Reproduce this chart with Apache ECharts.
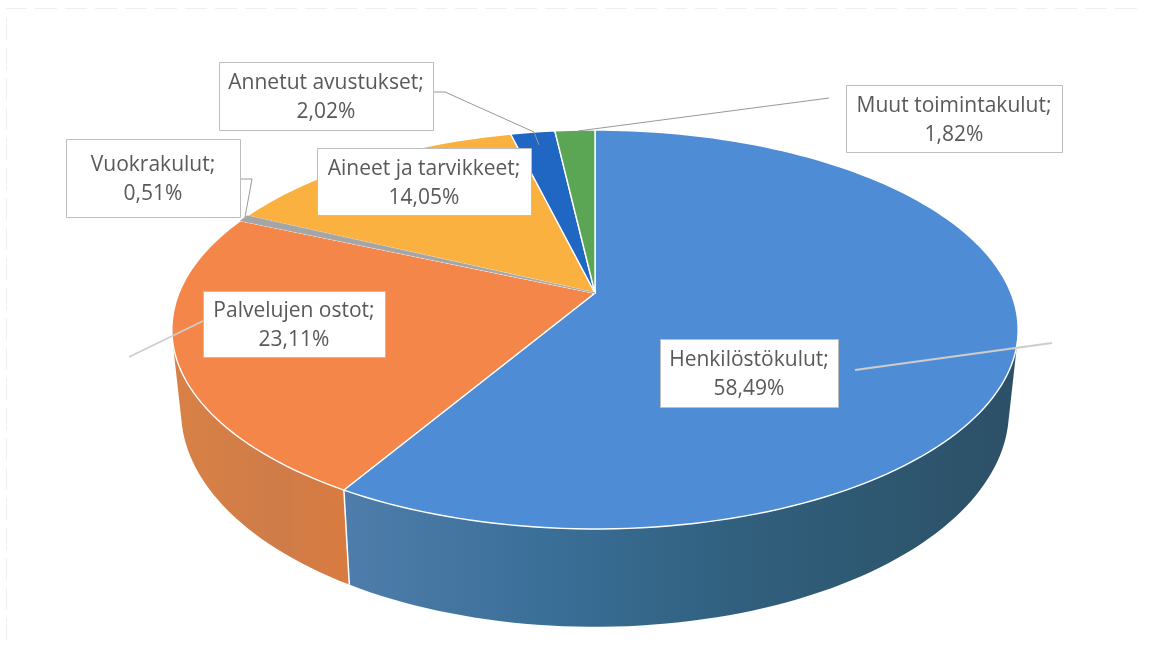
<!DOCTYPE html>
<html lang="fi">
<head>
<meta charset="UTF-8">
<title>Toimintakulut</title>
<script src="https://cdn.jsdelivr.net/npm/echarts@6/dist/echarts.min.js"></script>
<style>
	html, body { margin: 0; padding: 0; background: #fff; }
	#container { width: 1162px; height: 648px; }
</style>
</head>
<body>
<div id="container"></div>
<script>
// data, clockwise from 12 o'clock
var categories = ['Henkilöstökulut', 'Palvelujen ostot', 'Vuokrakulut', 'Aineet ja tarvikkeet', 'Annetut avustukset', 'Muut toimintakulut'];
var values = [58.49, 23.11, 0.51, 14.05, 2.02, 1.82];
var valueLabels = ['58,49%', '23,11%', '0,51%', '14,05%', '2,02%', '1,82%'];

var topColors = ['#4e8dd6', '#f4864a', '#a5a5a5', '#fab13f', '#1f67c2', '#5aa655'];

// label boxes [x0, y0, x1, y1] and leader lines, same order as categories
var boxes = [[660, 339, 838, 407], [203, 291, 385, 357], [66, 139, 240, 217], [317, 148, 531, 215], [219, 62, 433, 130], [846, 85, 1062, 152]];
var leaders = [
	[[855, 370], [1052, 343]],
	[[203, 321], [129, 357]],
	[[240, 179], [252, 179], [245, 217]],
	[],
	[[433, 92], [445, 92], [534, 132], [539, 145]],
	[[829, 98], [578, 131]]
];

// perspective of the disc: top face and bottom face
var K = 0.183;
var CX = 595;
var topFace = { a: 416, b: 192.8, y: 293 };
var lowFace = { a: 407, b: 209, y: 371 };
var WALL_FROM = 103, WALL_TO = 257;

function project(face, deg) {
	var t = deg * Math.PI / 180;
	var u = Math.sin(t), v = -Math.cos(t);
	var d = 1 - K * v;
	return [CX + face.a * u / d, face.y + face.b * v / d];
}
function arc(face, from, to) {
	var pts = [];
	var n = Math.max(2, Math.ceil(Math.abs(to - from) / 1.5));
	for (var i = 0; i <= n; i++) pts.push(project(face, from + (to - from) * i / n));
	return pts;
}

var total = values.reduce(function (a, b) { return a + b; }, 0);
var angles = [], acc = 0;
values.forEach(function (v) {
	angles.push([acc / total * 360, (acc + v) / total * 360]);
	acc += v;
});

function wallFill(idx) {
	if (idx === 0) {
		return new echarts.graphic.LinearGradient(0, 0, 1, 0, [
			{ offset: 0, color: '#4f7dab' },
			{ offset: 0.3, color: '#3a6f98' },
			{ offset: 0.62, color: '#305e7b' },
			{ offset: 1, color: '#2c5066' }
		]);
	}
	return new echarts.graphic.LinearGradient(0, 0, 1, 0, [
		{ offset: 0, color: '#d98145' },
		{ offset: 0.6, color: '#cf7c49' },
		{ offset: 1, color: '#da7b40' }
	]);
}

function renderDisc() {
	var children = [];
	// side walls first
	angles.forEach(function (a, i) {
		var from = Math.max(a[0], WALL_FROM), to = Math.min(a[1], WALL_TO);
		if (to <= from) return;
		var pts = arc(topFace, from, to).concat(arc(lowFace, to, from));
		children.push({ type: 'polygon', shape: { points: pts }, style: { fill: wallFill(i) } });
	});
	// the white edge between the two walls
	var joint = angles[0][1];
	children.push({
		type: 'polyline',
		shape: { points: [project(topFace, joint), project(lowFace, joint)] },
		style: { stroke: '#fff', lineWidth: 1.5, fill: null }
	});
	// top face
	var apex = [CX, topFace.y];
	angles.forEach(function (a, i) {
		var pts = [apex].concat(arc(topFace, a[0], a[1]));
		children.push({ type: 'polygon', shape: { points: pts }, style: { fill: topColors[i], stroke: '#fff', lineWidth: 1.4, lineJoin: 'round' } });
	});
	// thin grey slice would vanish under the white edges
	children.push({
		type: 'polygon',
		shape: { points: [apex].concat(arc(topFace, angles[2][0], angles[2][1])) },
		style: { fill: topColors[2], stroke: topColors[2], lineWidth: 0.8 }
	});
	// leaders, then boxes
	leaders.forEach(function (l, i) {
		if (!l.length) return;
		children.push({
			type: 'polyline',
			shape: { points: l },
			style: { stroke: (i < 2 ? '#cfcdcb' : '#999999'), lineWidth: (i < 2 ? 1.8 : 1), fill: null }
		});
	});
	boxes.forEach(function (b, i) {
		children.push({
			type: 'rect',
			shape: { x: b[0] + 0.5, y: b[1] + 0.5, width: b[2] - b[0], height: b[3] - b[1] },
			style: { fill: '#fff', stroke: '#bdbdbd', lineWidth: 1 }
		});
		children.push({
			type: 'text',
			style: {
				x: (b[0] + b[2]) / 2,
				y: (b[1] + b[3]) / 2 + 2,
				text: categories[i] + ';\n' + valueLabels[i],
				align: 'center',
				verticalAlign: 'middle',
				font: '21px "Open Sans"',
				lineHeight: 29,
				fill: '#595959'
			}
		});
	});
	return { type: 'group', children: children };
}

var myChart = echarts.init(document.getElementById('container'), null, { renderer: 'canvas' });
myChart.setOption({
	animation: false,
	backgroundColor: '#fff',
	series: [{
		type: 'custom',
		coordinateSystem: 'none',
		silent: true,
		data: [0],
		renderItem: renderDisc
	}],
	graphic: {
		elements: [{
			type: 'polyline',
			z: -1,
			shape: { points: [[6.5, 640], [6.5, 8.5], [1140, 8.5]] },
			style: { fill: null, stroke: '#efefef', lineWidth: 1, lineDash: [22, 8] }
		}]
	}
});
</script>
</body>
</html>
